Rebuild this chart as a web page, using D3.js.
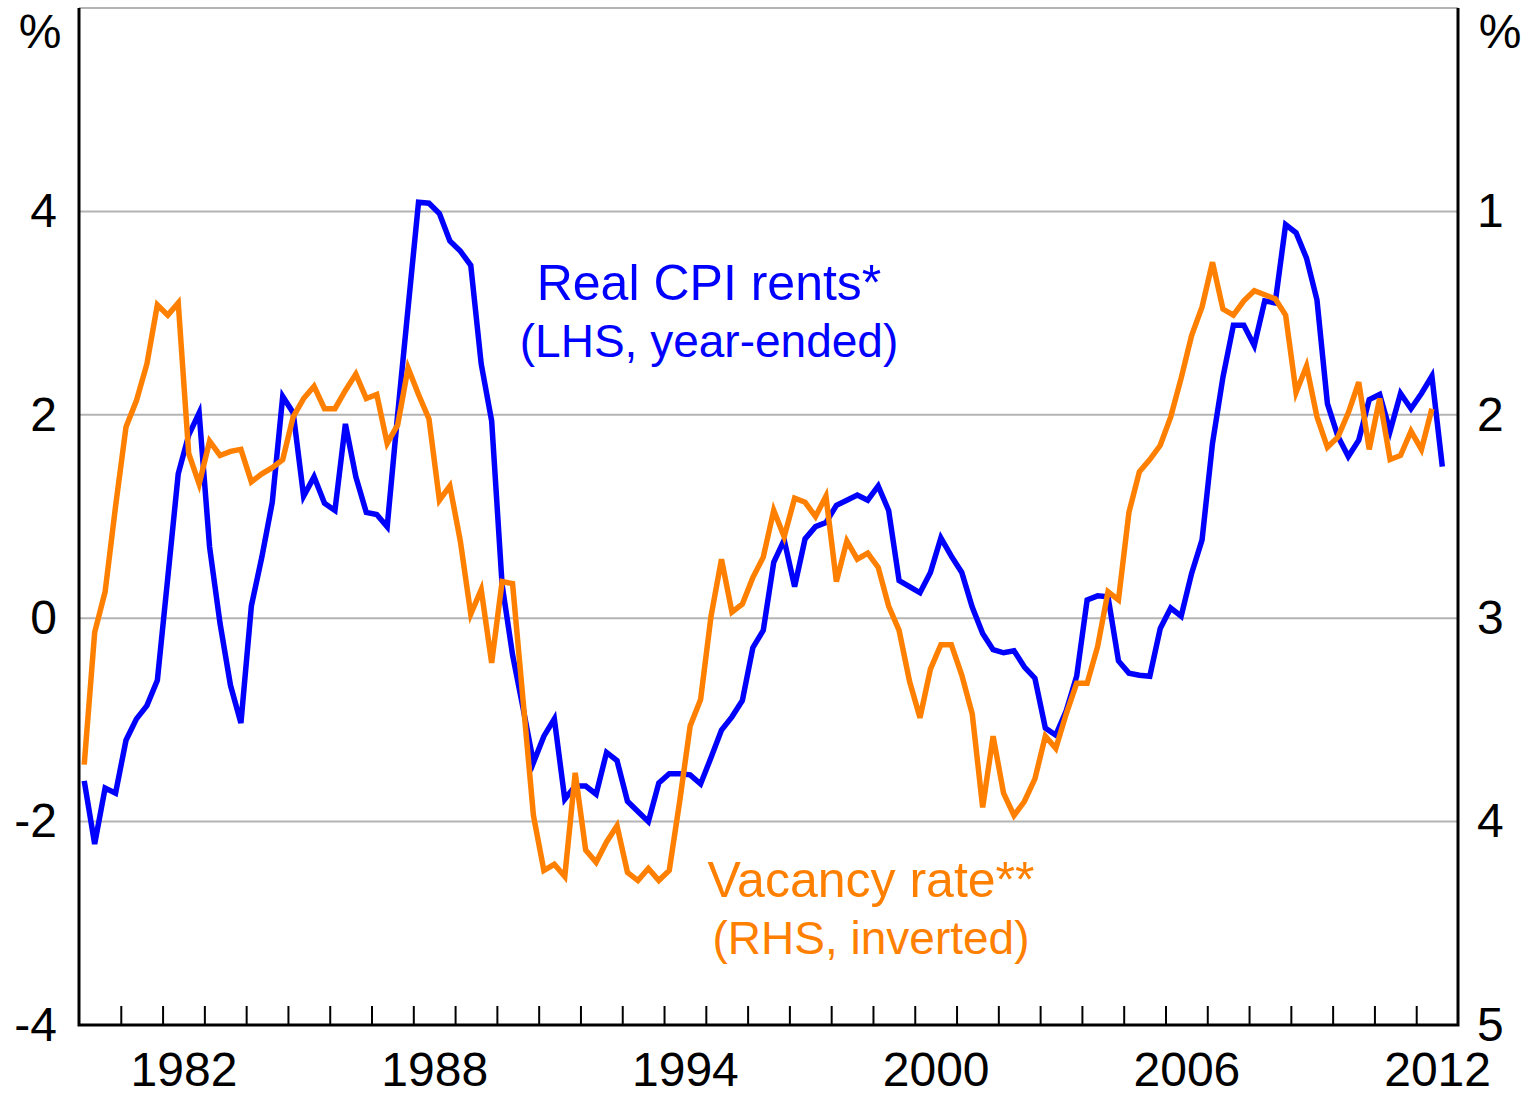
<!DOCTYPE html>
<html lang="en">
<head>
<meta charset="utf-8" />
<title>Real CPI rents and vacancy rate</title>
<script src="https://d3js.org/d3.v7.min.js"></script>
<style>
body { margin: 0; background: #fff; }
svg { display: block; font-family: 'Liberation Sans', Arial, sans-serif; }
</style>
</head>
<body>
<svg id="chart" width="1528" height="1096"></svg>
<script>
// quarterly, starting 1980 Q1
var startYear = 1980;

// Real CPI rents, year-ended % (LHS), 1980Q1 - 2012Q3
var rents = [
  -1.60, -2.22, -1.67, -1.72, -1.20, -0.99, -0.86, -0.61, 0.40, 1.42,
  1.80, 2.02, 0.70, -0.05, -0.66, -1.03, 0.12, 0.60, 1.14, 2.18,
  2.02, 1.20, 1.39, 1.13, 1.06, 1.91, 1.39, 1.04, 1.02, 0.90,
  2.00, 3.05, 4.09, 4.08, 3.98, 3.71, 3.61, 3.47, 2.50, 1.94,
  0.33, -0.36, -0.88, -1.42, -1.16, -0.99, -1.78, -1.65, -1.65, -1.73,
  -1.32, -1.40, -1.80, -1.90, -2.00, -1.62, -1.53, -1.53, -1.54, -1.63,
  -1.37, -1.10, -0.97, -0.81, -0.29, -0.12, 0.55, 0.77, 0.31, 0.78,
  0.90, 0.94, 1.11, 1.16, 1.21, 1.16, 1.30, 1.06, 0.37, 0.31,
  0.25, 0.45, 0.79, 0.61, 0.45, 0.11, -0.15, -0.31, -0.34, -0.32,
  -0.48, -0.59, -1.08, -1.15, -0.91, -0.57, 0.18, 0.22, 0.21, -0.42,
  -0.54, -0.56, -0.57, -0.10, 0.10, 0.02, 0.44, 0.77, 1.72, 2.37,
  2.88, 2.88, 2.68, 3.12, 3.10, 3.87, 3.79, 3.54, 3.13, 2.11,
  1.79, 1.59, 1.75, 2.15, 2.20, 1.84, 2.21, 2.06, 2.21, 2.38,
  1.49
];

// Vacancy rate % (RHS, inverted), 1980Q1 - 2012Q2
var vacancy = [
  3.72, 3.07, 2.87, 2.45, 2.06, 1.93, 1.75, 1.46, 1.51, 1.45,
  2.19, 2.34, 2.13, 2.20, 2.18, 2.17, 2.33, 2.29, 2.26, 2.22,
  2.01, 1.92, 1.86, 1.97, 1.97, 1.88, 1.80, 1.92, 1.90, 2.14,
  2.05, 1.77, 1.90, 2.02, 2.42, 2.35, 2.62, 2.98, 2.86, 3.22,
  2.82, 2.83, 3.40, 3.97, 4.24, 4.21, 4.27, 3.76, 4.14, 4.20,
  4.10, 4.02, 4.25, 4.29, 4.23, 4.29, 4.24, 3.90, 3.53, 3.40,
  2.99, 2.71, 2.97, 2.93, 2.80, 2.70, 2.47, 2.60, 2.41, 2.43,
  2.50, 2.40, 2.82, 2.62, 2.71, 2.68, 2.75, 2.94, 3.06, 3.31,
  3.49, 3.25, 3.13, 3.13, 3.28, 3.47, 3.93, 3.58, 3.86, 3.97,
  3.90, 3.79, 3.58, 3.64, 3.47, 3.32, 3.32, 3.14, 2.87, 2.91,
  2.48, 2.28, 2.22, 2.15, 2.01, 1.82, 1.61, 1.47, 1.25, 1.48,
  1.51, 1.44, 1.39, 1.41, 1.43, 1.51, 1.89, 1.76, 2.01, 2.16,
  2.11, 1.99, 1.84, 2.17, 1.92, 2.22, 2.20, 2.08, 2.17, 1.97
];

var yearLabels = [1982, 1988, 1994, 2000, 2006, 2012];
var leftTicks = [-4, -2, 0, 2, 4];
var rightTicks = [1, 2, 3, 4, 5];
var gridValues = [-2, 0, 2, 4, 6];

var blue = '#0000ff';
var orange = '#ff8000';
var font = "'Liberation Sans', Arial, sans-serif";

// plot box
var pLeft = 79, pRight = 1458, pTop = 8, pBottom = 1025;
var svg = d3.select('#chart');

var x = d3.scaleLinear().domain([1980, 2013]).range([pLeft, pRight]);
var yL = d3.scaleLinear().domain([-4, 6]).range([pBottom, pTop]);
var yR = d3.scaleLinear().domain([0, 5]).range([pTop, pBottom]);

var quarter = (i) => startYear + (i + 0.5) / 4;
var plain = (d) => String(d);   // hyphen minus, no decimals

// gridlines
svg.append('g')
  .selectAll('line')
  .data(gridValues)
  .enter()
  .append('line')
  .attr('x1', pLeft)
  .attr('x2', pRight)
  .attr('y1', (d) => yL(d))
  .attr('y2', (d) => yL(d))
  .attr('stroke', '#b4b4b4')
  .attr('stroke-width', 2);

// year ticks, pointing up into the plot
svg.append('g')
  .attr('transform', `translate(0, ${pBottom})`)
  .call(d3.axisBottom(x)
    .tickValues(d3.range(1981, 2013))
    .tickSize(-19)
    .tickFormat(''))
  .call((g) => g.select('.domain').remove())
  .selectAll('line')
  .attr('stroke', '#000')
  .attr('stroke-width', 2);

// year labels sit in the middle of the year
svg.append('g')
  .attr('transform', `translate(0, ${pBottom})`)
  .call(d3.axisBottom(x)
    .tickValues(yearLabels.map((d) => d + 0.5))
    .tickSize(0)
    .tickPadding(27)
    .tickFormat((d) => Math.floor(d)))
  .call((g) => g.select('.domain').remove())
  .selectAll('text')
  .attr('font-size', 48)
  .attr('font-family', font)
  .attr('fill', '#000');

svg.append('g')
  .attr('transform', `translate(${pLeft}, 0)`)
  .call(d3.axisLeft(yL).tickValues(leftTicks).tickSize(0).tickPadding(22).tickFormat(plain))
  .call((g) => g.select('.domain').remove())
  .selectAll('text')
  .attr('font-size', 48)
  .attr('font-family', font)
  .attr('fill', '#000');

svg.append('g')
  .attr('transform', `translate(${pRight}, 0)`)
  .call(d3.axisRight(yR).tickValues(rightTicks).tickSize(0).tickPadding(19).tickFormat(plain))
  .call((g) => g.select('.domain').remove())
  .selectAll('text')
  .attr('font-size', 48)
  .attr('font-family', font)
  .attr('fill', '#000');

// axis frame: left, bottom, right
svg.append('path')
  .attr('d', `M${pLeft},${pTop}V${pBottom}H${pRight}V${pTop}`)
  .attr('fill', 'none')
  .attr('stroke', '#000')
  .attr('stroke-width', 3);

var lineL = d3.line().x((d, i) => x(quarter(i))).y((d) => yL(d));
var lineR = d3.line().x((d, i) => x(quarter(i))).y((d) => yR(d));

svg.append('path')
  .datum(rents)
  .attr('d', lineL)
  .attr('fill', 'none')
  .attr('stroke', blue)
  .attr('stroke-width', 5.5);

svg.append('path')
  .datum(vacancy)
  .attr('d', lineR)
  .attr('fill', 'none')
  .attr('stroke', orange)
  .attr('stroke-width', 5.5);

// units
[40, 1500].forEach((ux) => {
  svg.append('text')
    .attr('x', ux).attr('y', 48)
    .attr('text-anchor', 'middle')
    .attr('font-size', 48)
    .attr('font-family', font)
    .text('%');
});

// series labels
var labels = [
  { lines: ['Real CPI rents*', '(LHS, year-ended)'], x: 709, y: 300, color: blue },
  { lines: ['Vacancy rate**', '(RHS, inverted)'], x: 871, y: 897, color: orange }
];

labels.forEach((l) => {
  l.lines.forEach((t, k) => {
    svg.append('text')
      .attr('x', l.x)
      .attr('y', l.y + k * 57)
      .attr('text-anchor', 'middle')
      .attr('font-size', k === 0 ? 50 : 46)
      .attr('font-family', font)
      .attr('fill', l.color)
      .text(t);
  });
});
</script>
</body>
</html>
